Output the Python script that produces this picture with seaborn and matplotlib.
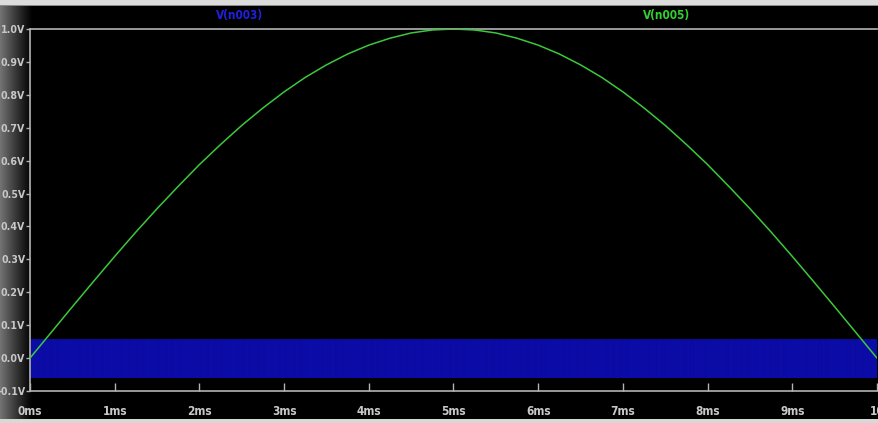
import numpy as np
import pandas as pd
import matplotlib
matplotlib.use("Agg")
import matplotlib.pyplot as plt
import seaborn as sns
from matplotlib.patches import Rectangle

sns.set_theme(style="dark")
plt.rcParams["font.family"] = ["DejaVu Sans"]
plt.rcParams["font.stretch"] = "condensed"

# V(n005): half sine read every 0.25 ms
n005_time_ms = [0.0, 0.25, 0.5, 0.75, 1.0, 1.25, 1.5, 1.75, 2.0, 2.25, 2.5,
                2.75, 3.0, 3.25, 3.5, 3.75, 4.0, 4.25, 4.5, 4.75, 5.0,
                5.25, 5.5, 5.75, 6.0, 6.25, 6.5, 6.75, 7.0, 7.25, 7.5,
                7.75, 8.0, 8.25, 8.5, 8.75, 9.0, 9.25, 9.5, 9.75, 10.0]
n005_volts = [0.0, 0.078, 0.156, 0.233, 0.309, 0.383, 0.454, 0.522, 0.588,
              0.649, 0.707, 0.760, 0.809, 0.853, 0.891, 0.924, 0.951, 0.972,
              0.988, 0.997, 1.0, 0.997, 0.988, 0.972, 0.951, 0.924, 0.891,
              0.853, 0.809, 0.760, 0.707, 0.649, 0.588, 0.522, 0.454, 0.383,
              0.309, 0.233, 0.156, 0.078, 0.0]

# V(n003): fast switching between two levels
n003_high = 0.057
n003_low = -0.060
n003_period_ms = 0.0127

x_ticks = [0, 1, 2, 3, 4, 5, 6, 7, 8, 9, 10]
x_labels = ["0ms", "1ms", "2ms", "3ms", "4ms", "5ms", "6ms", "7ms", "8ms", "9ms", "10"]
y_ticks = [-0.1, 0.0, 0.1, 0.2, 0.3, 0.4, 0.5, 0.6, 0.7, 0.8, 0.9, 1.0]
y_labels = ["-0.1V", "0.0V", "0.1V", "0.2V", "0.3V", "0.4V", "0.5V",
            "0.6V", "0.7V", "0.8V", "0.9V", "1.0V"]

W, H = 879, 423
fig = plt.figure(figsize=(W / 100, H / 100), dpi=100, facecolor="black")

# window chrome: grey gutter on the left, light strips top and bottom
bg = fig.add_axes([0, 0, 1, 1], zorder=0)
bg.set_axis_off()
grad = np.zeros((H, W, 3))
xs = np.arange(W)
shade = np.clip(1 - xs / 32.0, 0, 1) ** 1.1 * 0.45
grad[:, :, :] = shade[None, :, None]
bg.imshow(grad, aspect="auto", extent=[0, W, H, 0])
bg.set_xlim(0, W)
bg.set_ylim(H, 0)
bg.add_patch(Rectangle((0, 0), W, 5, color="#dcdcdc", lw=0))
bg.add_patch(Rectangle((0, 5), W, 1.5, color="#8a8a8a", lw=0))
bg.add_patch(Rectangle((0, 419), W, 4, color="#d8d8d8", lw=0))

ax = fig.add_axes([30 / W, 32 / H, (877 - 30) / W, (394 - 32) / H], zorder=1)
ax.set_facecolor("none")

# switching trace, drawn as a square wave with vertical edges
n_half = int(round(10.0 / (n003_period_ms / 2)))
levels = np.resize([n003_high, n003_low], n_half + 1)
levels[0] = 0.0
t_sw = np.linspace(0, 10.0, n_half + 1)
df3 = pd.DataFrame({"t": t_sw, "v": levels})
sns.lineplot(data=df3, x="t", y="v", ax=ax, color="#0d0db8", lw=0.35,
             sort=False, estimator=None, drawstyle="steps-post", zorder=2)

df5 = pd.DataFrame({"t": n005_time_ms, "v": n005_volts})
sns.lineplot(data=df5, x="t", y="v", ax=ax, color="#3cc83c", lw=1.1,
             estimator=None, zorder=3)

ax.set_xlim(0, 10)
ax.set_ylim(-0.1, 1.0)
ax.set_xlabel("")
ax.set_ylabel("")
ax.grid(False)
ax.spines["right"].set_visible(False)
for side in ["left", "top", "bottom"]:
    ax.spines[side].set_visible(True)
    ax.spines[side].set_color("#b4b4b4")
    ax.spines[side].set_linewidth(1.2)

ax.set_xticks(x_ticks)
ax.set_xticklabels(x_labels)
ax.set_yticks(y_ticks)
ax.set_yticklabels(y_labels)
ax.tick_params(axis="both", colors="#b4b4b4", labelcolor="#c8c8c8",
               bottom=True, left=True)
ax.tick_params(axis="x", direction="in", length=6, width=1, pad=10,
               labelsize=8.5)
ax.tick_params(axis="y", direction="out", length=3, width=1, pad=0.5,
               labelsize=7.6)
for lab in ax.get_xticklabels() + ax.get_yticklabels():
    lab.set_fontweight("bold")
    lab.set_fontstretch("condensed")

fig.text(240 / W, 1 - 16 / H, "V(n003)", color="#2020e0", fontsize=8.5,
         fontweight="bold", fontstretch="condensed", ha="center", va="center")
fig.text(667 / W, 1 - 16 / H, "V(n005)", color="#30d030", fontsize=8.5,
         fontweight="bold", fontstretch="condensed", ha="center", va="center")

fig.savefig("out.png", dpi=100, facecolor="black")
